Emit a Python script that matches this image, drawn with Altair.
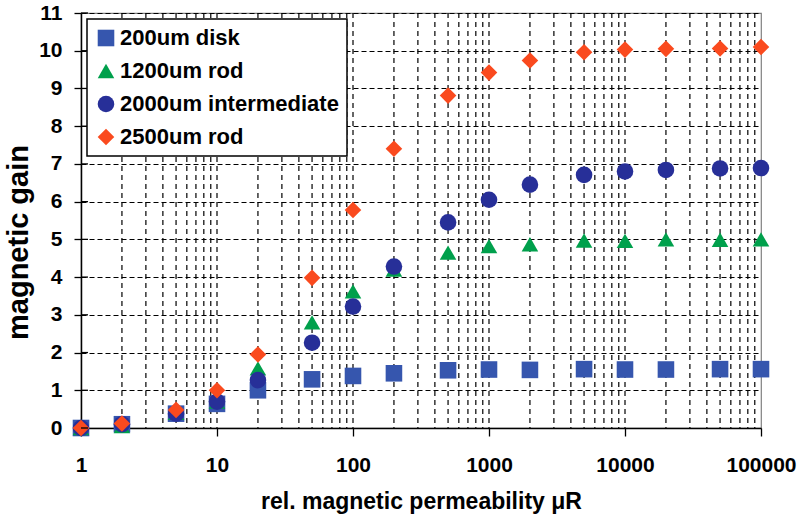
import altair as alt
import pandas as pd

# ---- data ----
mu_r = [1, 2, 5, 10, 20, 50, 100, 200, 500, 1000, 2000, 5000, 10000, 20000, 50000, 100000]
series_names = ["200um disk", "1200um rod", "2000um intermediate", "2500um rod"]
disk_200 = [0.0, 0.10, 0.38, 0.64, 1.00, 1.29, 1.38, 1.45, 1.53, 1.55, 1.54, 1.56, 1.55, 1.55, 1.56, 1.56]
rod_1200 = [0.0, 0.05, 0.40, 0.70, 1.58, 2.80, 3.62, 4.20, 4.65, 4.82, 4.87, 4.97, 4.96, 5.00, 4.99, 5.00]
inter_2000 = [0.0, 0.10, 0.38, 0.70, 1.27, 2.26, 3.22, 4.28, 5.45, 6.05, 6.45, 6.71, 6.80, 6.84, 6.88, 6.89]
rod_2500 = [0.0, 0.12, 0.48, 1.00, 1.95, 3.98, 5.78, 7.40, 8.81, 9.42, 9.74, 9.96, 10.03, 10.05, 10.06, 10.10]
series_values = [disk_200, rod_1200, inter_2000, rod_2500]
series_colors = ["#3656AE", "#00A04C", "#272F98", "#FA4A1E"]
series_shapes = ["square", "triangle-up", "circle", "diamond"]

x_major_ticks = [1, 10, 100, 1000, 10000, 100000]
x_grid_values = [m * 10 ** k for k in range(5) for m in range(2, 10)] + [10, 100, 1000, 10000]
y_ticks = list(range(0, 12))

rows = []
for name, vals in zip(series_names, series_values):
    for xv, yv in zip(mu_r, vals):
        rows.append({"mu": xv, "gain": yv, "series": name})
df = pd.DataFrame(rows)

FONT = "Liberation Sans"
X_TITLE = "rel. magnetic permeability \u03bcR"
Y_TITLE = "magnetic gain"

xscale = alt.Scale(type="log", domain=[1, 100000], nice=False)
yscale = alt.Scale(domain=[0, 11], nice=False, zero=False)

x_axis = alt.Axis(
    values=x_major_ticks,
    format="d",
    grid=False,
    tickSize=8,
    labelPadding=18,
    titleY=80,
    titleBaseline="alphabetic",
)
y_axis = alt.Axis(
    values=y_ticks,
    grid=True,
    gridDash=[5, 3],
    gridColor="black",
    gridWidth=1.2,
    tickSize=7,
    labelPadding=12,
    titleX=-63,
    titleY=229,
    titleAngle=270,
    titleBaseline="middle",
    titleAlign="center",
    titleFontSize=29,
)

vgrid = alt.Chart(pd.DataFrame({"mu": x_grid_values})).mark_rule(
    color="black", strokeWidth=1.2, strokeDash=[5, 4]
).encode(x=alt.X("mu:Q", scale=xscale, axis=x_axis, title=X_TITLE))

points = alt.Chart(df).mark_point(filled=True, opacity=1, strokeWidth=0).encode(
    x=alt.X("mu:Q", scale=xscale, axis=x_axis, title=X_TITLE),
    y=alt.Y("gain:Q", scale=yscale, axis=y_axis, title=Y_TITLE),
    color=alt.Color(
        "series:N",
        scale=alt.Scale(domain=series_names, range=series_colors),
        sort=series_names,
        legend=alt.Legend(title=None, orient="none", legendX=6, legendY=6),
    ),
    shape=alt.Shape(
        "series:N",
        scale=alt.Scale(domain=series_names, range=series_shapes),
        sort=series_names,
        legend=alt.Legend(title=None, orient="none", legendX=6, legendY=6),
    ),
    size=alt.value(275),
)

inner_ticks = alt.Chart(pd.DataFrame({"gain": y_ticks})).mark_rule(
    color="black", strokeWidth=1.3
).encode(
    y=alt.Y("gain:Q", scale=yscale, axis=y_axis, title=Y_TITLE),
    x=alt.value(0),
    x2=alt.value(7),
)

chart = (
    alt.layer(vgrid, points, inner_ticks)
    .properties(
        width=680,
        height=415,
        autosize=alt.AutoSizeParams(type="none"),
        padding={"left": 81, "top": 13, "right": 37, "bottom": 92},
        background="white",
    )
    .configure_view(stroke="#808080", strokeWidth=1.2)
    .configure_axis(
        labelFont=FONT,
        labelFontSize=21,
        labelFontWeight="bold",
        labelColor="black",
        titleFont=FONT,
        titleFontSize=23,
        titleFontWeight="bold",
        titleColor="black",
        domainColor="black",
        domainWidth=1.5,
        tickColor="black",
        tickWidth=1.3,
        labelFlush=False,
        labelOverlap=False,
    )
    .configure_legend(
        labelFont=FONT,
        labelFontSize=22,
        labelFontWeight="bold",
        labelColor="black",
        strokeColor="black",
        strokeWidth=1.5,
        fillColor="white",
        padding=8,
        rowPadding=11,
        labelOffset=3,
        symbolSize=275,
        symbolStrokeWidth=0,
        symbolOpacity=1,
        labelLimit=400,
    )
)

chart.save("out.html", embed_options={"renderer": "svg", "actions": False})
